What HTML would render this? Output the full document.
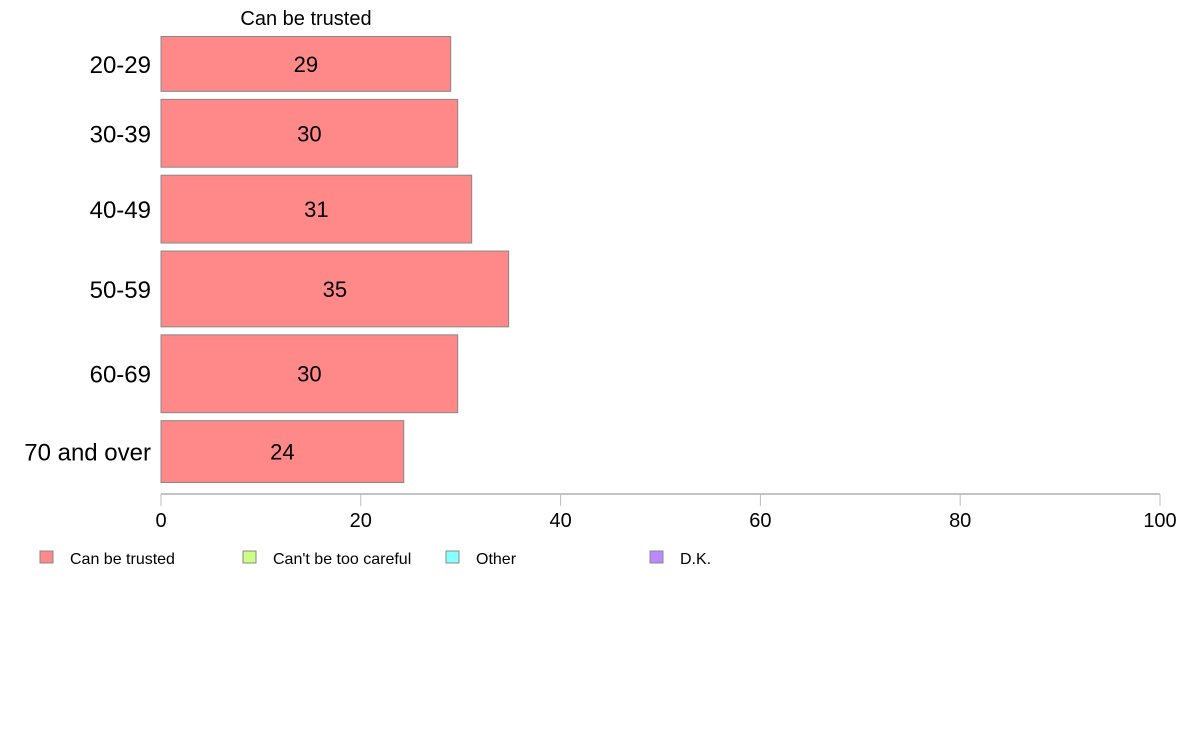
<!DOCTYPE html>
<html><head><meta charset="utf-8"><style>
html,body{margin:0;padding:0;background:#fff;}
svg text{font-family:"Liberation Sans",Arial,sans-serif;}
</style></head><body>
<svg id="chart" width="1188" height="736" xmlns="http://www.w3.org/2000/svg">
<text x="306" y="25" font-size="20" text-anchor="middle">Can be trusted</text>
<g id="bars"></g>
<g id="axis"></g>
<g id="legend"></g>
</svg>
<script>
const categories = ["20-29","30-39","40-49","50-59","60-69","70 and over"];
const values = [29.0, 29.7, 31.1, 34.8, 29.7, 24.3];
const labels = ["29","30","31","35","30","24"];
const groupSizes = [55, 68, 68, 76, 78, 62];
const ticks = [0,20,40,60,80,100];
const legendLabels = ["Can be trusted","Can't be too careful","Other","D.K."];
const legendColors = ["#ff8888","#ccff88","#88ffff","#bb88ff"];

const NS="http://www.w3.org/2000/svg";
const x0=161, x1=1160, yTop=36.5, yBot=482.5, gap=8;
const xs = v => x0 + (v/100)*(x1-x0);
function mk(tag, attrs, parent){const e=document.createElementNS(NS,tag);for(const k in attrs)e.setAttribute(k,attrs[k]);parent.appendChild(e);return e;}

const bars=document.getElementById('bars');
const totalSize=groupSizes.reduce((a,b)=>a+b,0);
const avail=(yBot-yTop)-gap*(categories.length-1);
let y=yTop;
categories.forEach((c,i)=>{
  const h=groupSizes[i]/totalSize*avail;
  const r=mk('rect',{x:x0,y:y,width:xs(values[i])-x0,height:h,fill:'#ff8888',stroke:'#888','stroke-width':1},bars);
  
  
  const t=mk('text',{x:(x0+xs(values[i]))/2,y:y+h/2+8,'font-size':22,'text-anchor':'middle'},bars);
  
  
  t.textContent=labels[i];
  const l=mk('text',{x:151,y:y+h/2+9,'font-size':24,'text-anchor':'end'},bars);
  
  
  l.textContent=c;
  y+=h+gap;
});

const ax=document.getElementById('axis');
const line=mk('line',{x1:x0,y1:494,x2:x1,y2:494,stroke:'#888','stroke-width':1},ax);


ticks.forEach(v=>{
  const tk=mk('line',{x1:xs(v),y1:494,x2:xs(v),y2:506,stroke:'#bbb','stroke-width':1},ax);
  
  
  const tl=mk('text',{x:xs(v),y:527,'font-size':20,'text-anchor':'middle'},ax);
  
  
  tl.textContent=String(v);
});

const lg=document.getElementById('legend');
const lx=[40,243,446,650];
legendLabels.forEach((s,i)=>{
  const r=mk('rect',{x:lx[i],y:551,width:13,height:12,fill:legendColors[i],stroke:'#888','stroke-width':1},lg);
  
  
  const t=mk('text',{x:lx[i]+30,y:564,'font-size':16},lg);
  
  
  t.textContent=s;
});
</script>
</body></html>
